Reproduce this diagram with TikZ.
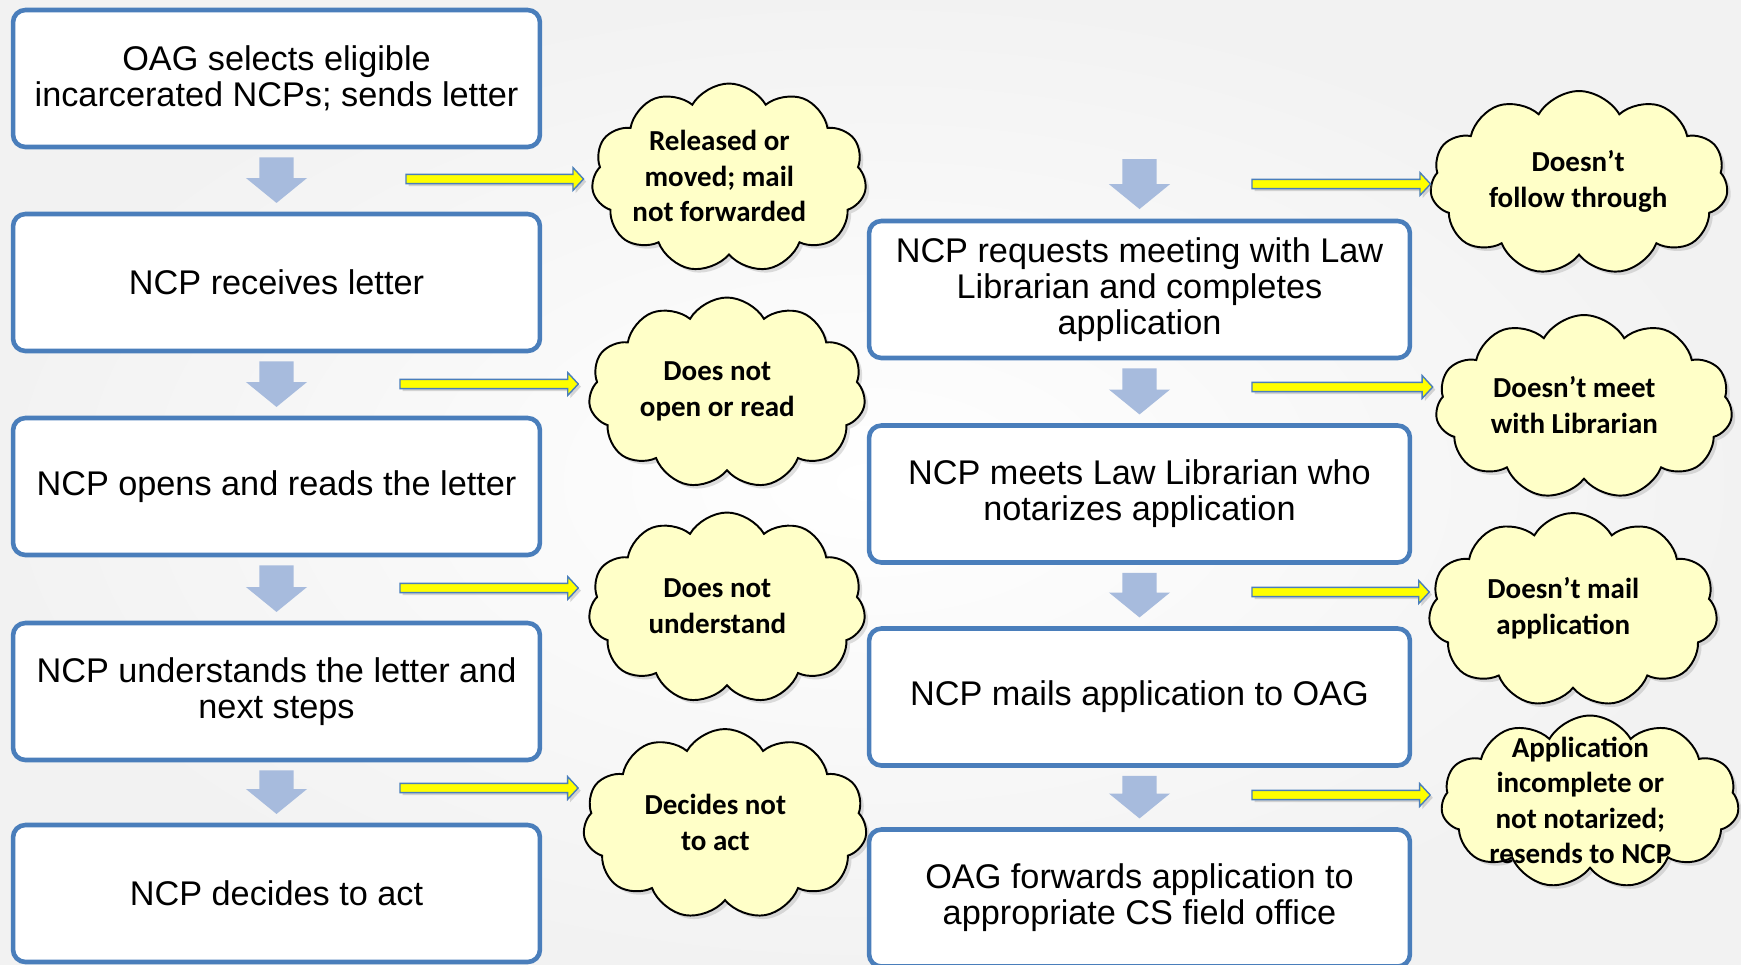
\documentclass[tikz,border=0pt]{standalone}
\usepackage{fontspec}
\setmainfont{Liberation Sans}
\newfontfamily\cloudfont{Carlito}
\usetikzlibrary{shapes.symbols,shadows,calc}

\definecolor{boxblue}{RGB}{74,126,187}
\definecolor{flowblue}{RGB}{167,187,221}
\definecolor{cloudfill}{RGB}{255,255,200}
\definecolor{warnyellow}{RGB}{255,255,0}

\tikzset{
  stepbox/.style={draw=boxblue, line width=2.6pt, rounded corners=7pt, fill=white,
    align=center, inner sep=0pt, font=\fontsize{19.5}{20.5}\selectfont},
  leftbox/.style={stepbox, minimum width=10.54cm, minimum height=2.74cm},
  rightbox/.style={stepbox, minimum width=10.82cm, minimum height=2.74cm},
  dropout/.style={cloud, cloud puffs=11, cloud puff arc=120, cloud ignores aspect,
    draw=black, line width=1.1pt, fill=cloudfill, inner sep=0pt,
    drop shadow={shadow xshift=2pt, shadow yshift=-2pt, opacity=0.25}},
  droptext/.style={align=center, xshift=-5.5pt, yshift=1pt, inner sep=0pt,
    font=\cloudfont\bfseries\fontsize{16.5}{20.2}\selectfont},
  % fat block arrow going down between two steps
  flowdown/.style={fill=flowblue, to path={let \p1=(\tikztostart), \p2=(\tikztotarget) in
    (\x1-9.7pt,\y1) -- (\x1+9.7pt,\y1) -- (\x1+9.7pt,\y2+14.2pt) -- (\x1+17.4pt,\y2+14.2pt)
    -- (\x1,\y2) -- (\x1-17.4pt,\y2+14.2pt) -- (\x1-9.7pt,\y2+14.2pt) -- cycle}},
  % thin yellow arrow out to a cloud
  exitarrow/.style={draw=boxblue, line width=0.8pt, fill=warnyellow,
    drop shadow={shadow xshift=1.5pt, shadow yshift=-1.5pt, opacity=0.3},
    to path={let \p1=(\tikztostart), \p2=(\tikztotarget) in
    (\x1,\y1+2.6pt) -- (\x2-6pt,\y1+2.6pt) -- (\x2-6pt,\y1+6.5pt) -- (\x2,\y1)
    -- (\x2-6pt,\y1-6.5pt) -- (\x2-6pt,\y1-2.6pt) -- (\x1,\y1-2.6pt) -- cycle}},
}

\begin{document}
\begin{tikzpicture}[x=0.02cm, y=-0.02cm]
    \useasboundingbox (0,0) rectangle (1741,964);
    \clip (0,0) rectangle (1741,964);
    \shade[inner color=white, outer color=gray!10] (0,0) rectangle (1741,964);

    % left column of steps
    \node[leftbox] (L1) at (276.5,78.5) {OAG selects eligible\\incarcerated NCPs; sends letter};
    \node[leftbox] (L2) at (276.5,282.5) {NCP receives letter};
    \node[leftbox] (L3) at (276.5,486.5) {NCP opens and reads the letter};
    \node[leftbox] (L4) at (276.5,691.5) {NCP understands the letter and\\next steps};
    \node[leftbox] (L5) at (276.5,893.5) {NCP decides to act};

    % right column of steps
    \node[rightbox] (R1) at (1139.5,289.5) {NCP requests meeting with Law\\Librarian and completes\\application};
    \node[rightbox] (R2) at (1139.5,494) {NCP meets Law Librarian who\\notarizes application};
    \node[rightbox] (R3) at (1139.5,697) {NCP mails application to OAG};
    \node[rightbox] (R4) at (1139.5,898) {OAG forwards application to\\appropriate CS field office};

    \foreach \a/\b in {L1/L2,L2/L3,L3/L4,L4/L5,R1/R2,R2/R3,R3/R4}
        \path[flowdown] ([yshift=-4.6pt]\a.south) to ([yshift=5pt]\b.north);
    \coordinate (Rin) at (1139.5,159);
    \path[flowdown] (Rin) to ([yshift=5.5pt]R1.north);

    % where NCPs drop out
    \node[dropout, minimum width=5.5cm, minimum height=3.78cm,
        label={[droptext]center:Released or\\moved; mail\\not forwarded}] (C1) at (729,178) {};
    \node[dropout, minimum width=5.54cm, minimum height=3.82cm,
        label={[droptext]center:Does not\\open or read}] (C2) at (727,393) {};
    \node[dropout, minimum width=5.54cm, minimum height=3.82cm,
        label={[droptext]center:Does not\\understand}] (C3) at (727,608) {};
    \node[dropout, minimum width=5.68cm, minimum height=3.8cm,
        label={[droptext]center:Decides not\\to act}] (C4) at (725,824) {};
    \node[dropout, minimum width=5.96cm, minimum height=3.68cm,
        label={[droptext, xshift=5pt]center:Doesn’t\\follow through}] (D1) at (1579,183) {};
    \node[dropout, minimum width=5.94cm, minimum height=3.68cm,
        label={[droptext]center:Doesn’t meet\\with Librarian}] (D2) at (1584,407) {};
    \node[dropout, minimum width=5.78cm, minimum height=3.88cm,
        label={[droptext]center:Doesn’t mail\\application}] (D3) at (1573,610) {};
    \node[dropout, minimum width=5.96cm, minimum height=3.46cm,
        label={[droptext]center:Application\\incomplete or\\not notarized;\\resends to NCP}] (D4) at (1590,802) {};

    \coordinate (X1) at (406,179);
    \coordinate (X2) at (400,384);
    \coordinate (X3) at (400,588);
    \coordinate (X4) at (400,788);
    \coordinate (Y1) at (1252,184);
    \coordinate (Y2) at (1252,387);
    \coordinate (Y3) at (1252,592);
    \coordinate (Y4) at (1252,795);
    \foreach \s/\c/\g in {X1/C1/5pt,X2/C2/6.3pt,X3/C3/6.3pt,X4/C4/3.2pt,
                          Y1/D1/0pt,Y2/D2/1.9pt,Y3/D3/0pt,Y4/D4/6.3pt}
        \path[exitarrow] (\s) to ([xshift=-\g]\c.west);
\end{tikzpicture}
\end{document}
